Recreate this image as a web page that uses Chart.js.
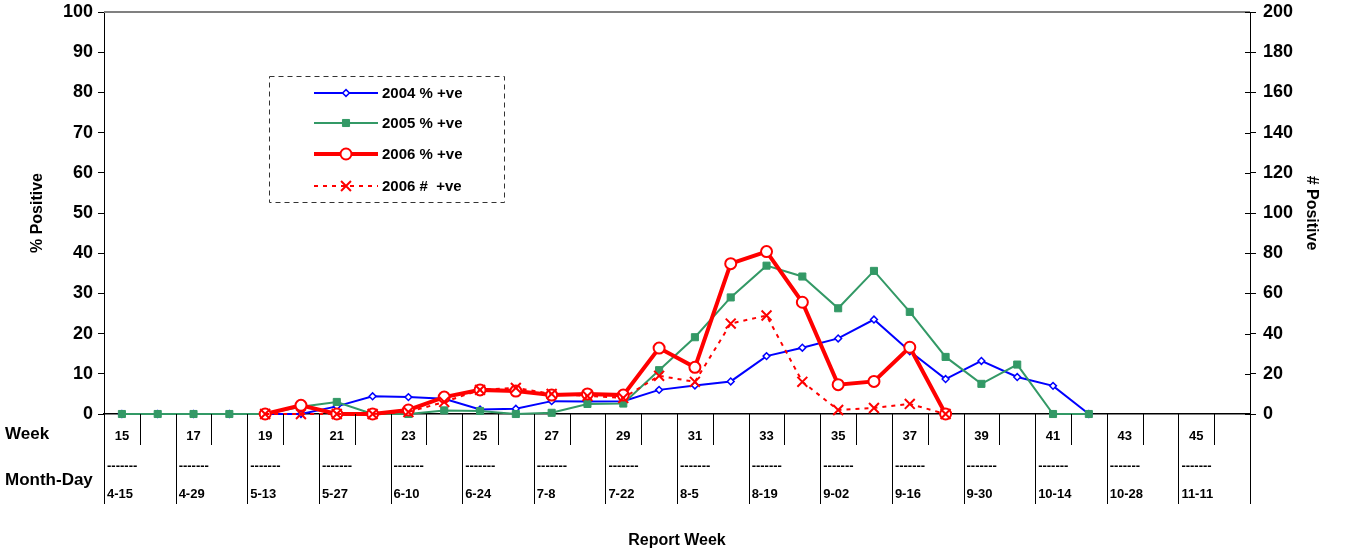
<!DOCTYPE html>
<html>
<head>
<meta charset="utf-8">
<script src="https://cdn.jsdelivr.net/npm/chart.js@4.4.1/dist/chart.umd.min.js"></script>
<style>
  html, body { margin: 0; padding: 0; background: #fff; }
  #wrap { width: 1356px; height: 550px; position: relative; }
</style>
</head>
<body>
<div id="wrap"><canvas id="chart"></canvas></div>
<script>
// report weeks 15..46
const weeks = ['15','16','17','18','19','20','21','22','23','24','25','26','27','28','29','30',
               '31','32','33','34','35','36','37','38','39','40','41','42','43','44','45','46'];
// month-day under every odd week
const monthDays = ['4-15','4-29','5-13','5-27','6-10','6-24','7-8','7-22',
                   '8-5','8-19','9-02','9-16','9-30','10-14','10-28','11-11'];

const pct2004 = [0, 0, 0, 0, 0, 0, 1.9, 4.4, 4.2, 3.8, 1.1, 1.3, 3.2, 3.1, 3.2, 6.0,
                 7.1, 8.1, 14.4, 16.5, 18.8, 23.5, 15.6, 8.7, 13.2, 9.2, 7.0, 0, null, null, null, null];
const pct2005 = [0, 0, 0, 0, 0, 1.8, 3.0, 0, 0, 0.9, 0.75, 0, 0.3, 2.5, 2.6, 10.9,
                 19.1, 29.0, 36.9, 34.2, 26.3, 35.6, 25.4, 14.2, 7.5, 12.3, 0, 0, null, null, null, null];
const pct2006 = [null, null, null, null, 0, 2.15, 0, 0, 1.0, 4.2, 6.0, 5.7, 4.7, 5.0, 4.7, 16.4,
                 11.6, 37.4, 40.4, 27.8, 7.3, 8.1, 16.6, 0, null, null, null, null, null, null, null, null];
const num2006 = [null, null, null, null, 0, 0, 0, 0, 1, 6, 12, 13, 10, 9, 8, 19,
                 16, 45, 49, 16, 2, 3, 5, 0, null, null, null, null, null, null, null, null];

const FONT = '"Liberation Sans", Arial, sans-serif';
const BLUE = '#0000ff', GREEN = '#339966', RED = '#ff0000';

Chart.defaults.font.family = FONT;
Chart.defaults.color = '#000';

function seg(ctx, x1, y1, x2, y2) {
  ctx.beginPath(); ctx.moveTo(x1, y1); ctx.lineTo(x2, y2); ctx.stroke();
}

function legendMarker(ctx, ds, cx, cy) {
  ctx.save();
  ctx.setLineDash([]);
  ctx.lineWidth = ds.pointBorderWidth;
  ctx.strokeStyle = ds.pointBorderColor;
  ctx.fillStyle = ds.pointBackgroundColor;
  const r = ds.pointRadius;
  ctx.beginPath();
  if (ds.pointStyle === 'circle') {
    ctx.arc(cx, cy, r, 0, Math.PI * 2);
    ctx.fill(); ctx.stroke();
  } else if (ds.pointStyle === 'rect') {
    const s = r * Math.SQRT1_2;
    ctx.rect(cx - s, cy - s, 2 * s, 2 * s);
    ctx.fill(); ctx.stroke();
  } else if (ds.pointStyle === 'rectRot') {
    ctx.moveTo(cx, cy - r); ctx.lineTo(cx + r, cy); ctx.lineTo(cx, cy + r); ctx.lineTo(cx - r, cy);
    ctx.closePath(); ctx.fill(); ctx.stroke();
  } else {
    const s = r * Math.SQRT1_2;
    ctx.moveTo(cx - s, cy - s); ctx.lineTo(cx + s, cy + s);
    ctx.moveTo(cx + s, cy - s); ctx.lineTo(cx - s, cy + s);
    ctx.stroke();
  }
  ctx.restore();
}

const tablePlugin = {
  id: 'reportTable',
  afterDraw(chart) {
    const { ctx, chartArea: a, scales: { x, y1 } } = chart;
    const w = x.getPixelForValue(1) - x.getPixelForValue(0);
    const x0 = x.getPixelForValue(0) - w / 2;
    ctx.save();

    // gray top border of the plot
    ctx.strokeStyle = '#808080'; ctx.lineWidth = 2;
    seg(ctx, a.left, a.top, a.right, a.top);

    // right-axis ticks cross into the plot
    ctx.strokeStyle = '#000'; ctx.lineWidth = 1;
    y1.ticks.forEach(t => {
      const py = Math.round(y1.getPixelForValue(t.value)) + 0.5;
      seg(ctx, a.right - 5, py, a.right, py);
    });

    // table dividers under the axis
    for (let i = 0; i <= weeks.length; i++) {
      const px = Math.round(x0 + i * w) + 0.5;
      seg(ctx, px, a.bottom, px, i % 2 === 0 ? 504 : 445);
    }

    // month-day rows
    ctx.fillStyle = '#000';
    ctx.textBaseline = 'middle'; ctx.textAlign = 'left';
    ctx.font = 'bold 13px ' + FONT;
    monthDays.forEach((md, k) => {
      const px = x0 + 2 * k * w + 3;
      ctx.fillText('-------', px, 466);
      ctx.fillText(md, px, 494);
    });
    ctx.font = 'bold 17px ' + FONT;
    ctx.fillText('Week', 5, 434);
    ctx.fillText('Month-Day', 5, 480);

    // legend box
    ctx.strokeStyle = '#333'; ctx.lineWidth = 1;
    ctx.setLineDash([5, 4]);
    ctx.strokeRect(269.5, 76.5, 235, 126);
    const rows = [93, 123, 154, 186];
    ctx.font = 'bold 15px ' + FONT;
    chart.data.datasets.forEach((ds, k) => {
      const ry = rows[k];
      ctx.strokeStyle = ds.borderColor;
      ctx.lineWidth = ds.borderWidth;
      ctx.setLineDash(ds.borderDash || []);
      seg(ctx, 314, ry, 378, ry);
      legendMarker(ctx, ds, 346, ry);
      ctx.fillStyle = '#000';
      ctx.fillText(ds.label, 382, ry + 1);
    });
    ctx.restore();
  }
};

function fixVertical(width) {
  return s => { s.width = width; s.paddingTop = 0; s.paddingBottom = 0; };
}

new Chart(document.getElementById('chart'), {
  type: 'line',
  data: {
    labels: weeks,
    datasets: [
      { label: '2004 % +ve', data: pct2004, yAxisID: 'y', order: 4, clip: false,
        borderColor: BLUE, borderWidth: 2,
        pointStyle: 'rectRot', pointRadius: 3.4, pointBorderWidth: 1.5,
        pointBorderColor: BLUE, pointBackgroundColor: '#fff' },
      { label: '2005 % +ve', data: pct2005, yAxisID: 'y', order: 3, clip: false,
        borderColor: GREEN, borderWidth: 2,
        pointStyle: 'rect', pointRadius: 5, pointBorderWidth: 1,
        pointBorderColor: GREEN, pointBackgroundColor: GREEN },
      { label: '2006 % +ve', data: pct2006, yAxisID: 'y', order: 2, clip: false,
        borderColor: RED, borderWidth: 4,
        pointStyle: 'circle', pointRadius: 5.5, pointBorderWidth: 2,
        pointBorderColor: RED, pointBackgroundColor: '#fff' },
      { label: '2006 #  +ve', data: num2006, yAxisID: 'y1', order: 1, clip: false,
        borderColor: RED, borderWidth: 2, borderDash: [4, 5],
        pointStyle: 'crossRot', pointRadius: 7, pointBorderWidth: 2,
        pointBorderColor: RED, pointBackgroundColor: RED }
    ]
  },
  options: {
    responsive: true, maintainAspectRatio: false,
    animation: false, events: [],
    layout: { padding: { top: 12, left: 0, right: 0, bottom: 0 } },
    plugins: { legend: { display: false }, tooltip: { enabled: false } },
    scales: {
      x: {
        offset: true,
        grid: { display: false, drawTicks: false },
        border: { display: true, color: '#000', width: 1.5 },
        ticks: {
          autoSkip: false, maxRotation: 0, padding: 15,
          font: { size: 13, weight: 'bold' },
          callback: (v, i) => (Number(weeks[i]) % 2 === 1 ? weeks[i] : '')
        },
        title: { display: true, text: 'Report Week', font: { size: 16, weight: 'bold' },
                 padding: { top: 0, bottom: 0 } },
        afterFit: s => { s.height = 136; }
      },
      y: {
        position: 'left', min: 0, max: 100,
        ticks: { stepSize: 10, padding: 5, font: { size: 18, weight: 'bold' } },
        grid: { drawOnChartArea: false, drawTicks: true, tickLength: 6, color: '#000' },
        border: { display: true, color: '#000', width: 1 },
        title: { display: true, text: '% Positive', font: { size: 16, weight: 'bold' },
                 padding: { top: 28, bottom: 0 } },
        afterFit: fixVertical(104)
      },
      y1: {
        position: 'right', min: 0, max: 200,
        ticks: { stepSize: 20, padding: 7, font: { size: 18, weight: 'bold' } },
        grid: { drawOnChartArea: false, drawTicks: true, tickLength: 6, color: '#000' },
        border: { display: true, color: '#000', width: 1 },
        title: { display: true, text: '# Positive', font: { size: 16, weight: 'bold' },
                 padding: { top: 35, bottom: 0 } },
        afterFit: fixVertical(106)
      }
    }
  },
  plugins: [tablePlugin]
});
</script>
</body>
</html>
